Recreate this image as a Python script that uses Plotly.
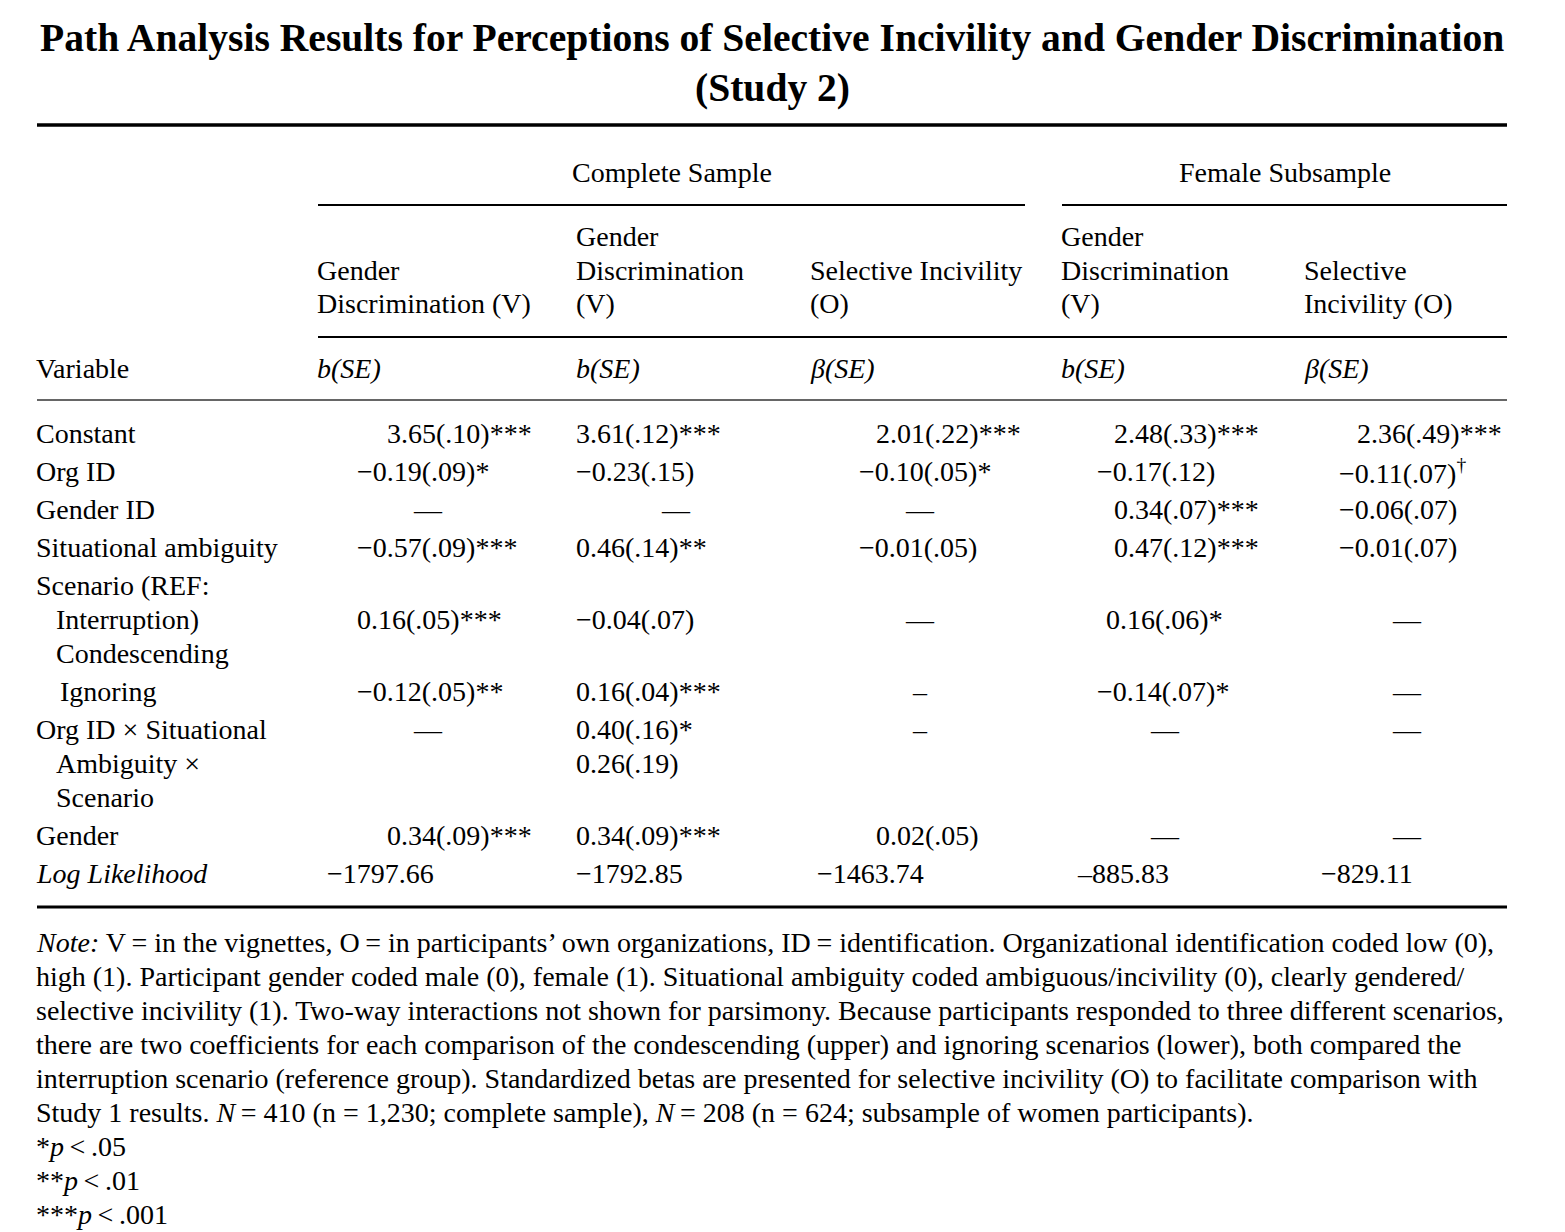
import plotly.graph_objects as go

# ---------------- DATA ----------------
title_lines = ["Path Analysis Results for Perceptions of Selective Incivility and Gender Discrimination",
               "(Study 2)"]
spanners = ["Complete Sample", "Female Subsample"]
col_headers = [
    ["", "Gender", "Discrimination (V)"],
    ["Gender", "Discrimination", "(V)"],
    ["", "Selective Incivility", "(O)"],
    ["Gender", "Discrimination", "(V)"],
    ["", "Selective", "Incivility (O)"],
]
stat_labels = ["<i>b(SE)</i>", "<i>b(SE)</i>", "<i>β(SE)</i>", "<i>b(SE)</i>", "<i>β(SE)</i>"]
variables = ["Constant", "Org ID", "Gender ID", "Situational ambiguity", "Scenario (REF:",
             "Interruption)", "Condescending", "Ignoring", "Org ID × Situational",
             "Ambiguity ×", "Scenario", "Gender", "<i>Log Likelihood</i>"]
complete_gd_a = ["3.65(.10)***", "−0.19(.09)*", "—", "−0.57(.09)***", "",
                 "0.16(.05)***", "", "−0.12(.05)**", "—", "", "", "0.34(.09)***", "−1797.66"]
complete_gd_b = ["3.61(.12)***", "−0.23(.15)", "—", "0.46(.14)**", "",
                 "−0.04(.07)", "", "0.16(.04)***", "0.40(.16)*", "0.26(.19)", "", "0.34(.09)***", "−1792.85"]
complete_si = ["2.01(.22)***", "−0.10(.05)*", "—", "−0.01(.05)", "",
               "—", "", "–", "–", "", "", "0.02(.05)", "−1463.74"]
female_gd = ["2.48(.33)***", "−0.17(.12)", "0.34(.07)***", "0.47(.12)***", "",
             "0.16(.06)*", "", "−0.14(.07)*", "—", "", "", "—", "–885.83"]
female_si = ["2.36(.49)***", "−0.11(.07)<sup>†</sup>", "−0.06(.07)", "−0.01(.07)", "",
             "—", "", "—", "—", "", "", "—", "−829.11"]
columns = [complete_gd_a, complete_gd_b, complete_si, female_gd, female_si]
note_lines = [
    "<i>Note:</i> V\u2009= in the vignettes, O\u2009= in participants’ own organizations, ID\u2009= identification. Organizational identification coded low (0),",
    "high (1). Participant gender coded male (0), female (1). Situational ambiguity coded ambiguous/incivility (0), clearly gendered/",
    "selective incivility (1). Two-way interactions not shown for parsimony. Because participants responded to three different scenarios,",
    "there are two coefficients for each comparison of the condescending (upper) and ignoring scenarios (lower), both compared the",
    "interruption scenario (reference group). Standardized betas are presented for selective incivility (O) to facilitate comparison with",
    "Study 1 results. <i>N</i>\u2009= 410 (n = 1,230; complete sample), <i>N</i>\u2009= 208 (n = 624; subsample of women participants).",
    "*<i>p</i>\u2009<\u2009.05",
    "**<i>p</i>\u2009<\u2009.01",
    "***<i>p</i>\u2009<\u2009.001",
]

# ---------------- LAYOUT / STYLE ----------------
W, H = 1565, 1232          # browser viewport
PAGE_MARGIN = 8            # default body margin of the html page
FONT = "Liberation Serif, Times New Roman, serif"
FS = 28
TITLE_FS = 39.6
LEFT, RIGHT = 37, 1507
X_NUDGE = -2               # compensate annotation inner padding for left-anchored text
title_y = [38, 88]
spanner_x = [671.5, 1284.5]
spanner_y = 172
spanner_rules = [(318, 1025), (1062, 1507)]
col_left = [318, 577, 811, 1062, 1305]
header_y = [236, 270, 303]
stat_y = 368
row_y = [433, 471, 509, 547, 585, 619, 653, 691, 729, 763, 797, 835, 873]
label_indent = [0, 0, 0, 0, 0, 20, 20, 24, 0, 20, 20, 0, 0]
val_base = [358, 577, 860, 1098, 1340]
dash_center = [428, 676, 920, 1165, 1407]
val_offset = [
    [30, 0, 0, 0, 0, 0, 0, 0, 0, 0, 0, 30, -30],
    [0, 0, 0, 0, 0, 0, 0, 0, 0, 0, 0, 0, 0],
    [17, 0, 0, 0, 0, 0, 0, 0, 0, 0, 0, 17, -42],
    [17, 0, 17, 17, 0, 9, 0, 0, 0, 0, 0, 0, -20],
    [18, 0, 0, 0, 0, 0, 0, 0, 0, 0, 0, 0, -18],
]
note_y0, note_dy = 942, 34

fig = go.Figure()
ann = []


def txt(x, y, text, anchor="left", size=FS, bold=False):
    if anchor == "left":
        x = x + X_NUDGE
    ann.append(dict(x=x, y=y, xref="x", yref="y", text=("<b>%s</b>" % text) if bold else text,
                    showarrow=False, xanchor=anchor, yanchor="middle", borderpad=0,
                    font=dict(family=FONT, size=size, color="black")))


for t, y in zip(title_lines, title_y):
    txt((LEFT + RIGHT) / 2, y, t, anchor="center", size=TITLE_FS, bold=True)
for s, x in zip(spanners, spanner_x):
    txt(x, spanner_y, s, anchor="center")
for ci, hdr in enumerate(col_headers):
    for line, y in zip(hdr, header_y):
        if line:
            txt(col_left[ci], y, line)
    txt(col_left[ci], stat_y, stat_labels[ci])
txt(LEFT, stat_y, "Variable")
for i, v in enumerate(variables):
    txt(LEFT + label_indent[i], row_y[i], v)
for ci, col in enumerate(columns):
    for ri, cell in enumerate(col):
        if not cell:
            continue
        if cell in ("—", "–"):
            txt(dash_center[ci], row_y[ri], cell, anchor="center")
        else:
            txt(val_base[ci] + val_offset[ci][ri], row_y[ri], cell)
for i, line in enumerate(note_lines):
    txt(LEFT, note_y0 + i * note_dy, line)

shapes = []


def rule(x0, x1, y, w, color="black"):
    shapes.append(dict(type="line", xref="x", yref="y", x0=x0, x1=x1, y0=y, y1=y,
                       line=dict(color=color, width=w)))


rule(LEFT, RIGHT, 125, 3.5)
for x0, x1 in spanner_rules:
    rule(x0, x1, 205, 2.2)
rule(318, RIGHT, 337, 2.2)
rule(LEFT, RIGHT, 400, 1.6, "#333333")
rule(LEFT, RIGHT, 907, 3)

fig.update_layout(
    width=W - PAGE_MARGIN, height=H - PAGE_MARGIN, margin=dict(l=0, r=0, t=0, b=0),
    paper_bgcolor="white", plot_bgcolor="white",
    xaxis=dict(range=[PAGE_MARGIN, W], visible=False, fixedrange=True),
    yaxis=dict(range=[H, PAGE_MARGIN], visible=False, fixedrange=True),
    annotations=ann, shapes=shapes, showlegend=False,
)
fig.write_html("out.html")
